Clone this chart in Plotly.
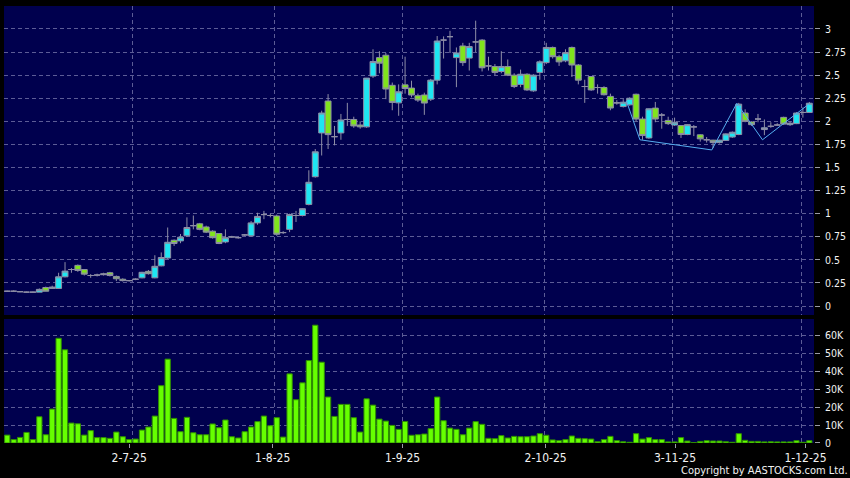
import plotly.graph_objs as go

# one entry per trading day, index 0..125 (Jun 2025 - 2 Dec 2025)
opens = [0.16, 0.16, 0.155, 0.15, 0.15, 0.15, 0.20, 0.19, 0.19, 0.316,
         0.395, 0.44, 0.395, 0.33, 0.335, 0.35, 0.36, 0.32, 0.29, 0.275,
         0.29, 0.305, 0.375, 0.305, 0.435, 0.52, 0.712, 0.705, 0.76, 0.87,
         0.89, 0.856, 0.81, 0.785, 0.694, 0.748, 0.74, 0.77, 0.76, 0.90,
         0.99, 0.98, 0.975, 0.795, 0.83, 0.98, 0.98, 1.10, 1.40, 1.874,
         2.22, 1.834, 1.874, 2.02, 2.02, 1.96, 1.94, 2.49, 2.69, 2.716,
         2.39, 2.20, 2.395, 2.36, 2.277, 2.285, 2.24, 2.446, 2.88, 2.917,
         2.69, 2.816, 2.685, 2.86, 2.88, 2.60, 2.593, 2.54, 2.593, 2.50,
         2.40, 2.51, 2.33, 2.53, 2.636, 2.80, 2.70, 2.655, 2.80, 2.61,
         2.377, 2.485, 2.366, 2.366, 2.27, 2.20, 2.16, 2.179, 2.293, 2.025,
         1.82, 2.143, 2.068, 2.01, 1.96, 1.954, 1.857, 1.94, 1.854, 1.80,
         1.796, 1.77, 1.793, 1.83, 1.857, 2.09, 1.993, 2.025, 1.911, 1.946,
         1.96, 2.043, 1.964, 1.975, 2.096, 2.096]
highs = [0.165, 0.17, 0.16, 0.155, 0.155, 0.19, 0.21, 0.22, 0.36, 0.475,
         0.41, 0.45, 0.40, 0.345, 0.35, 0.36, 0.37, 0.33, 0.30, 0.28,
         0.30, 0.37, 0.39, 0.55, 0.58, 0.85, 0.72, 0.78, 0.96, 0.98,
         0.90, 0.87, 0.82, 0.79, 0.83, 0.76, 0.75, 0.78, 0.92, 1.01,
         1.03, 1.00, 0.99, 0.81, 1.00, 1.03, 1.06, 1.47, 1.70, 2.115,
         2.295, 1.95, 2.08, 2.20, 2.05, 2.00, 2.47, 2.78, 2.76, 2.74,
         2.42, 2.40, 2.70, 2.44, 2.30, 2.31, 2.46, 2.924, 2.92, 2.98,
         2.80, 2.85, 2.85, 3.09, 2.89, 2.70, 2.62, 2.76, 2.67, 2.52,
         2.56, 2.52, 2.51, 2.66, 2.85, 2.81, 2.72, 2.78, 2.81, 2.62,
         2.45, 2.49, 2.40, 2.38, 2.30, 2.23, 2.24, 2.26, 2.30, 2.05,
         2.14, 2.21, 2.09, 2.05, 2.04, 1.96, 1.97, 1.96, 1.86, 1.83,
         1.80, 1.80, 1.87, 1.89, 2.20, 2.13, 2.00, 2.08, 2.02, 1.99,
         1.98, 2.05, 2.00, 2.10, 2.15, 2.21]
lows = [0.155, 0.155, 0.15, 0.145, 0.145, 0.15, 0.16, 0.185, 0.185, 0.31,
        0.36, 0.37, 0.33, 0.305, 0.32, 0.33, 0.32, 0.27, 0.265, 0.265,
        0.28, 0.30, 0.34, 0.30, 0.43, 0.51, 0.65, 0.68, 0.75, 0.83,
        0.82, 0.79, 0.73, 0.67, 0.68, 0.74, 0.73, 0.76, 0.75, 0.88,
        0.94, 0.96, 0.76, 0.78, 0.80, 0.91, 0.97, 1.09, 1.39, 1.63,
        1.70, 1.74, 1.80, 1.95, 1.93, 1.92, 1.93, 2.47, 2.52, 2.24,
        2.12, 2.06, 2.30, 2.26, 2.21, 2.07, 2.22, 2.40, 2.68, 2.74,
        2.37, 2.60, 2.55, 2.75, 2.54, 2.55, 2.50, 2.52, 2.49, 2.36,
        2.37, 2.33, 2.32, 2.45, 2.62, 2.68, 2.60, 2.64, 2.48, 2.40,
        2.20, 2.33, 2.30, 2.28, 2.12, 2.18, 2.15, 2.17, 2.00, 1.80,
        1.81, 1.99, 1.92, 1.96, 1.95, 1.82, 1.85, 1.84, 1.78, 1.77,
        1.71, 1.76, 1.79, 1.82, 1.85, 1.99, 1.95, 1.99, 1.85, 1.93,
        1.95, 1.96, 1.95, 1.97, 2.04, 2.09]
closes = [0.16, 0.16, 0.155, 0.15, 0.15, 0.18, 0.16, 0.205, 0.316, 0.378,
          0.395, 0.385, 0.345, 0.33, 0.335, 0.34, 0.33, 0.295, 0.275, 0.275,
          0.29, 0.365, 0.35, 0.43, 0.525, 0.69, 0.677, 0.745, 0.85, 0.87,
          0.83, 0.80, 0.74, 0.677, 0.74, 0.748, 0.74, 0.77, 0.90, 0.97,
          0.99, 0.98, 0.777, 0.795, 0.99, 0.98, 1.054, 1.34, 1.67, 2.09,
          1.856, 1.834, 2.015, 2.02, 1.95, 1.94, 2.468, 2.647, 2.63, 2.35,
          2.205, 2.32, 2.355, 2.285, 2.23, 2.198, 2.446, 2.87, 2.88, 2.917,
          2.74, 2.636, 2.81, 2.86, 2.58, 2.60, 2.53, 2.593, 2.50, 2.377,
          2.51, 2.34, 2.50, 2.644, 2.80, 2.70, 2.644, 2.744, 2.61, 2.446,
          2.377, 2.34, 2.366, 2.288, 2.144, 2.20, 2.207, 2.25, 2.025, 1.846,
          2.136, 2.025, 2.068, 1.975, 1.99, 1.857, 1.964, 1.94, 1.81, 1.80,
          1.77, 1.796, 1.864, 1.882, 2.186, 2.00, 1.964, 2.025, 1.93, 1.946,
          1.96, 1.97, 1.98, 2.09, 2.096, 2.196]
volumes = [4400, 1900, 3100, 5900, 1900, 14600, 4600, 18900, 58300, 51900,
           11100, 10700, 4400, 6900, 3000, 3000, 2600, 6100, 3500, 1900,
           2200, 7200, 8900, 15000, 31900, 46700, 13700, 6300, 14300, 5700,
           4600, 4600, 10600, 8500, 12800, 3500, 2800, 6300, 8900, 11900,
           15000, 9600, 14100, 3300, 38500, 24100, 33500, 45900, 65600, 45000,
           25600, 14800, 21500, 21500, 14100, 6100, 24600, 21100, 13300, 12200,
           9800, 7600, 12000, 4300, 4600, 5000, 8000, 25600, 12400, 8300,
           7600, 4600, 8300, 11900, 10400, 2600, 2400, 4100, 2800, 3700,
           3500, 3500, 3900, 5200, 4300, 1700, 1300, 1900, 3900, 2600,
           2400, 2200, 700, 1900, 3700, 1300, 700, 400, 5200, 2200,
           3000, 1900, 1900, 600, 600, 3000, 1100, 200, 900, 1300,
           1100, 1100, 700, 400, 5200, 1500, 900, 900, 600, 700,
           600, 600, 600, 1300, 400, 1300]
days = list(range(len(closes)))

# trend line drawn over the last weeks
trend_x = [96.5, 98.6, 109.8, 113.7, 117.7, 125.0]
trend_y = [2.22, 1.80, 1.69, 2.195, 1.80, 2.19]

date_labels = ["2-7-25", "1-8-25", "1-9-25", "2-10-25", "3-11-25", "1-12-25"]
label_pos = [19.0, 41.36, 61.6, 83.9, 104.07, 124.4]
grid_pos = [19.55, 41.6, 61.56, 83.7, 103.7, 123.8]

price_ticks = [0, 0.25, 0.5, 0.75, 1, 1.25, 1.5, 1.75, 2, 2.25, 2.5, 2.75, 3]
price_text = ["0", "0.25", "0.5", "0.75", "1", "1.25", "1.5", "1.75", "2",
              "2.25", "2.5", "2.75", "3"]
vol_ticks = [0, 10000, 20000, 30000, 40000, 50000, 60000]
vol_text = ["0", "10K", "20K", "30K", "40K", "50K", "60K"]

FONT = "DejaVu Sans Condensed, DejaVu Sans"
GRID = "#5c5c96"
TICK = "#9a9aa8"
XRANGE = [-0.51, 125.73]

candles = go.Candlestick(
    x=days, open=opens, high=highs, low=lows, close=closes,
    increasing=dict(fillcolor="#1ee6f2", line=dict(color="#8e8ea6", width=1)),
    decreasing=dict(fillcolor="#80e41c", line=dict(color="#8e8ea6", width=1)),
    whiskerwidth=0, xaxis="x", yaxis="y", hoverinfo="skip", showlegend=False)

trend = go.Scatter(x=trend_x, y=trend_y, mode="lines", xaxis="x", yaxis="y",
                   line=dict(color="#55aef0", width=1), hoverinfo="skip",
                   showlegend=False)

vol = go.Bar(x=days, y=volumes, width=0.82, xaxis="x2", yaxis="y2",
             marker=dict(color="#66ff00", line=dict(color="#2f8f00", width=1)),
             hoverinfo="skip", showlegend=False)

# invisible trace just to carry the date labels axis
labels_trace = go.Scatter(x=[XRANGE[0]], y=[0], mode="markers", xaxis="x3",
                          yaxis="y2", marker=dict(opacity=0), hoverinfo="skip",
                          showlegend=False)

grid_axis = dict(range=XRANGE, tickvals=grid_pos, showticklabels=False,
                 ticks="", showgrid=True, gridcolor=GRID, griddash="4px,3px",
                 gridwidth=1, zeroline=False, showline=False, fixedrange=True)

layout = go.Layout(
    width=850, height=478,
    margin=dict(l=4, r=36, t=6, b=35),
    paper_bgcolor="#000000", plot_bgcolor="#00004e",
    font=dict(family=FONT, color="#f2f2f2", size=11),
    boxgap=0.08, boxgroupgap=0,
    xaxis=dict(grid_axis, anchor="y", rangeslider=dict(visible=False)),
    xaxis2=dict(grid_axis, anchor="y2"),
    xaxis3=dict(range=XRANGE, overlaying="x2", anchor="y2", side="bottom",
                tickvals=label_pos, ticktext=date_labels, ticks="outside",
                ticklen=4, tickcolor=TICK, showgrid=False, zeroline=False,
                showline=False, tickfont=dict(size=12, family=FONT)),
    yaxis=dict(domain=[0.2929, 1], range=[-0.0975, 3.249], side="right",
               tickvals=price_ticks, ticktext=price_text, ticks="outside",
               ticklen=5, tickcolor=TICK, showgrid=True, gridcolor=GRID,
               griddash="4px,3px", zeroline=False, showline=False,
               ticklabelstandoff=3, tickfont=dict(size=10.5)),
    yaxis2=dict(domain=[0, 0.2838], range=[0, 69060], side="right",
                tickvals=vol_ticks, ticktext=vol_text, ticks="outside",
                ticklen=5, tickcolor=TICK, showgrid=True, gridcolor=GRID,
                griddash="4px,3px", zeroline=False, showline=False,
                ticklabelstandoff=3, tickfont=dict(size=10.5)),
    annotations=[dict(text="Copyright by AASTOCKS.com Ltd.", xref="paper",
                      yref="paper", x=1.044, y=-0.064, xanchor="right",
                      yanchor="middle", showarrow=False,
                      font=dict(size=11, family=FONT, color="#f2f2f2"))],
)

fig = go.Figure(data=[candles, trend, vol, labels_trace], layout=layout)
# page body has a default 8px margin; drop it so the chart sits at the corner
fig.write_html("out.html", config={"displayModeBar": False},
               post_script="document.body.style.margin='0';")
